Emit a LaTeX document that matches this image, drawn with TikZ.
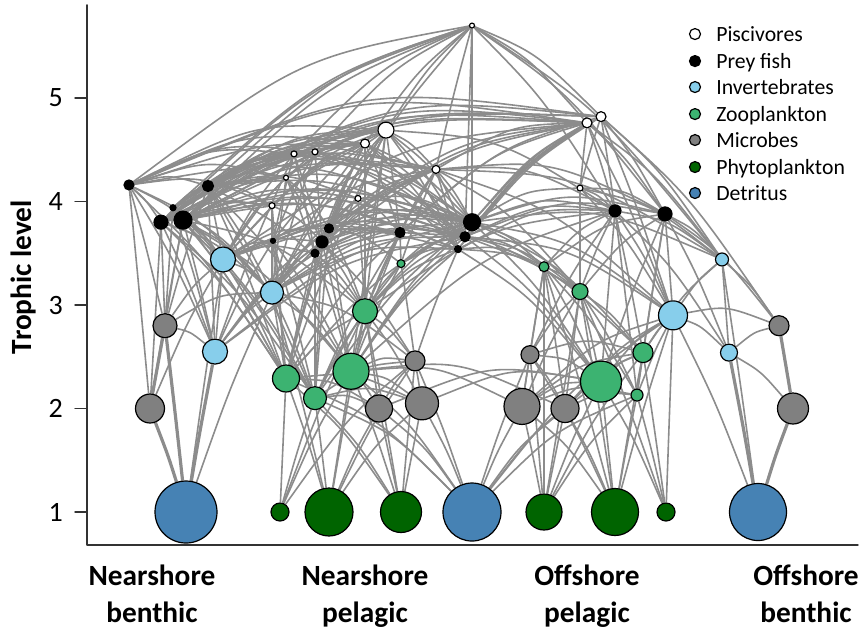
\documentclass[tikz,border=0pt]{standalone}
\usepackage{fontspec}
\setmainfont{Carlito}
\usetikzlibrary{calc,backgrounds}
\definecolor{linkgray}{HTML}{8C8C8C}
\definecolor{detr}{HTML}{4682B4}
\definecolor{phyt}{HTML}{006400}
\definecolor{micr}{HTML}{808080}
\definecolor{zoo}{HTML}{3CB371}
\definecolor{invt}{HTML}{87CEEB}
\tikzset{
  web/.style={circle, draw=black, line width=0.9pt, inner sep=0pt, minimum size=#1},
  link/.style={draw=linkgray, line width=1.2pt},
  biglink/.style={draw=linkgray, line width=2.4pt},
  axisline/.style={line width=1.1pt, black!80},
  lab/.style={font=\bfseries\fontsize{22}{27.75}\selectfont, align=center, anchor=base, inner sep=0pt},
  legtext/.style={font=\fontsize{16.3}{19}\selectfont, anchor=base west, inner sep=0pt, yshift=-5.3pt}
}
% arch from one node to another, bulging upwards
\newcommand{\feed}[3][link]{%
  \draw[#1] let \p1=(#2), \p2=(#3) in (#2) .. controls ($(\p1)!.5!(\p2)+(0pt,{.14*abs(\x2-\x1)})$) .. (#3);}

\begin{document}
\begin{tikzpicture}[x=0.75pt, y=77.625pt, line join=round, line cap=round]
\useasboundingbox (0,-0.1498) rectangle (860,5.947);
% axes
\draw[axisline] (87,5.899) -- (87,0.681) -- (858,0.681);
\foreach \t in {1,...,5}{
  \draw[axisline] (75,\t) -- (87,\t);
  \node[anchor=east, inner sep=0pt, font=\fontsize{21}{25}\selectfont] (tick\t) at (63,\t) {\t};
}
\node[rotate=90, font=\bfseries\fontsize{22}{26}\selectfont, inner sep=0pt] (ylab) at (24,3.27) {Trophic level};
\node[lab] (nb) at (152,-0.0628) {Nearshore\\benthic};
\node[lab] (np) at (365,-0.0628) {Nearshore\\pelagic};
\node[lab] (op) at (587,-0.0628) {Offshore\\pelagic};
\node[lab] (ob) at (806,-0.0628) {Offshore\\benthic};

% nodes of the web
\foreach \nm/\x/\y/\sz in {detNB/186/1/46.5, detP/472/1/43.5, detOB/758/1/42.75}
  \node[web=\sz pt, fill=detr] (\nm) at (\x,\y) {};
\foreach \nm/\x/\y/\sz in {phA/280/1/13.5, phB/329/1/36, phC/401/1/30.75, phD/544/1/27, phE/615/1/35.25, phF/666/1/13.5}
  \node[web=\sz pt, fill=phyt] (\nm) at (\x,\y) {};
\foreach \nm/\x/\y/\sz in {micA/150/2.00/21.75, micB/165/2.80/18, micC/379/2.00/20.25, micD/422/2.05/24.75, micE/415/2.46/15,
    micF/522/2.02/27, micG/565/2.00/21, micH/530/2.52/13.5, micI/793/2.00/23.25, micJ/779/2.80/15}
  \node[web=\sz pt, fill=micr] (\nm) at (\x,\y) {};
\foreach \nm/\x/\y/\sz in {zoA/286/2.29/20.25, zoB/315/2.10/17.25, zoC/351/2.36/27, zoD/365/2.94/18.75, zoE/401/3.40/6,
    zoF/544/3.37/7.5, zoG/580/3.13/12, zoH/601/2.26/30.75, zoI/637/2.13/9, zoJ/643/2.54/15}
  \node[web=\sz pt, fill=zoo] (\nm) at (\x,\y) {};
\foreach \nm/\x/\y/\sz in {invA/215/2.55/18.75, invB/223/3.44/18.75, invC/272/3.12/17.25, invD/673/2.90/21.75,
    invE/722/3.44/9.75, invF/729/2.54/12.75}
  \node[web=\sz pt, fill=invt] (\nm) at (\x,\y) {};
\foreach \nm/\x/\y/\sz in {fA/129/4.16/7.5, fB/208/4.15/8.25, fC/173/3.94/4.5, fD/161/3.80/10.5, fE/183/3.82/13.5,
    fF/329/3.74/6.75, fG/322/3.61/9, fH/273/3.62/3.75, fI/315/3.50/6, fJ/400/3.70/7.5, fK/472/3.80/12.75,
    fL/465/3.66/7.5, fM/458/3.54/5.25, fN/615/3.91/9, fO/665/3.88/10.5}
  \node[web=\sz pt, fill=black] (\nm) at (\x,\y) {};
\foreach \nm/\x/\y/\sz in {pA/472/5.70/3.75, pB/386/4.69/12, pC/365/4.56/6.75, pD/315/4.48/4.5, pE/294/4.46/4.5,
    pF/436/4.31/6, pG/286/4.23/3.75, pH/272/3.96/4.5, pI/358/4.03/4.5, pJ/587/4.76/7.5, pK/601/4.82/7.5, pL/580/4.13/4.5}
  \node[web=\sz pt, fill=white] (\nm) at (\x,\y) {};

% feeding links, predator/{prey}
\begin{scope}[on background layer]
\foreach \prd/\prey in {
    pA/{fA,fC,fD,fE,fB,pE,pD,pC,pB,pF,fK,fL,pJ,pK,fN,fO,invE,fI},
    pB/{fA,fB,fC,fD,fE,fF,fG,fH,fI,fJ,fK,fL,fM,invB,invC,zoD,pI,pH,pG,fN,pF,zoC,zoA},
    pC/{fA,fB,fC,fD,fE,fG,fF,fI,fJ,fK,fL,fM,invB,invC,pH,pG,zoD},
    pD/{fA,fB,fC,fD,fE,fG,fH,fK,fL,fM,invB,invC},
    pE/{fA,fB,fC,fE,fD,fH,fG,fI,fK,fL,invB,invA},
    pF/{fA,fB,fC,fD,fE,fF,fG,fH,fI,fJ,fK,fL,fM,fN,fO,invC,invD,invE,zoD,zoE,zoG},
    pG/{fA,fB,fE,fD,fG,fF,fI,invB,invC},
    pH/{fH,fA,fB,fD,fE,fG,invC,zoA},
    pI/{fF,fG,fJ,fE,fB,fK,fL,invC,zoD},
    pJ/{fA,fB,fC,fD,fE,fG,fI,fJ,fK,fL,fM,fN,fO,pF,pL,invD,invE,fF,invB},
    pK/{fA,fE,fJ,fK,fM,fN,fO,invE,invD,micJ,pL,fL,fB,fD},
    pL/{zoG,fN,fO,fK,invD,invE},
    fA/{invA,invB,micA,micB,fB,fD,invC,zoA},
    fB/{invA,invB,invC,micB,fC,fD,fE,zoA,zoB,zoC,zoD},
    fC/{invA,invB,micB,invC,zoA},
    fD/{invA,invB,micA,micB,invC,zoA,zoB},
    fE/{fC,invA,invB,micB,invC,zoA,zoB,zoC,zoD,micA},
    fF/{invB,invC,zoA,zoB,zoC,zoD,zoE,invA},
    fG/{invA,invB,invC,zoA,zoB,zoC,zoD,micE},
    fH/{invB,invC,zoA,zoB,zoC,invA},
    fI/{invC,zoA,zoB,zoC,zoD,invA,invB},
    fJ/{fG,fH,fI,zoE,zoD,zoC,invC,zoB,zoA,zoG,invB},
    fK/{fA,fB,fD,fE,fF,fG,fH,fI,zoD,zoC,zoE,zoA,zoB,invC,invB,invA,zoF,zoG,zoH,invD,invE,zoJ},
    fL/{fB,fD,fE,fF,fG,fI,invA,invB,zoD,zoC,zoE,zoF,zoG,zoH,invC,zoJ,invD},
    fM/{fD,fE,invB,zoD,zoC,zoE,zoF,zoG,zoH,micE,invC},
    fN/{fK,fL,fM,zoF,zoG,zoH,zoJ,zoI,invD,invE,invF,micH,zoC,zoD},
    fO/{fK,fL,zoG,zoH,zoJ,zoI,invD,invE,invF,micJ,zoF},
    invA/{micB},
    invB/{detNB,micA,micB,invA,invC,zoA,zoB},
    invC/{detNB,micB,zoA,zoB,zoC,invA,micE,phB},
    invD/{detOB,micJ,zoH,zoJ,zoI,phE,phF,micG,micF,detP,invF},
    invE/{detOB,micJ,invF,invD,zoJ},
    invF/{micJ,micI},
    micC/{detP,phB,phC},
    micD/{detP,phC,phB},
    micE/{micC,micD,detP,phC,phB,phA},
    micF/{detP,phD,phE},
    micG/{detP,phD,phE},
    micH/{micF,micG,detP,phD,phE},
    zoA/{phA,phB,phC,micC,micD,detP},
    zoB/{phA,phB,phC,micC,micD,detP,micE},
    zoC/{phA,phB,phC,micC,micD,micE,detP,micF,micG},
    zoD/{zoA,zoB,zoC,micE,micC,micD,phB,phC,phA},
    zoE/{zoC,zoD,micE,zoB},
    zoF/{zoH,micH,micF,phD,phE,zoI,zoG,micG},
    zoG/{zoH,zoJ,zoI,micH,micF,micG,phD,phE,phF},
    zoH/{phD,phE,phF,micF,micG,micH,detP,micD,micC},
    zoI/{phE,phF,micG,micF,detP,phD},
    zoJ/{phE,phF,zoI,zoH,micG,micH,phD,micF}}
  \foreach \pry in \prey
    \feed{\prd}{\pry};
\foreach \prd/\pry in {micA/detNB, micB/micA, invA/detNB, micB/detNB, micI/detOB, micJ/micI, invF/detOB}
  \feed[biglink]{\prd}{\pry};
\end{scope}

% legend
\foreach \nm/\lab/\col/\yy in {lgP/Piscivores/white/5.618, lgF/Prey fish/black/5.357, lgI/Invertebrates/invt/5.106,
    lgZ/Zooplankton/zoo/4.845, lgM/Microbes/micr/4.594, lgY/Phytoplankton/phyt/4.333, lgD/Detritus/detr/4.082}{
  \node[web=8.25pt, fill=\col] (\nm) at (695,\yy) {};
  \node[legtext] (\nm txt) at (716,\yy) {\lab};
}
\end{tikzpicture}
\end{document}
